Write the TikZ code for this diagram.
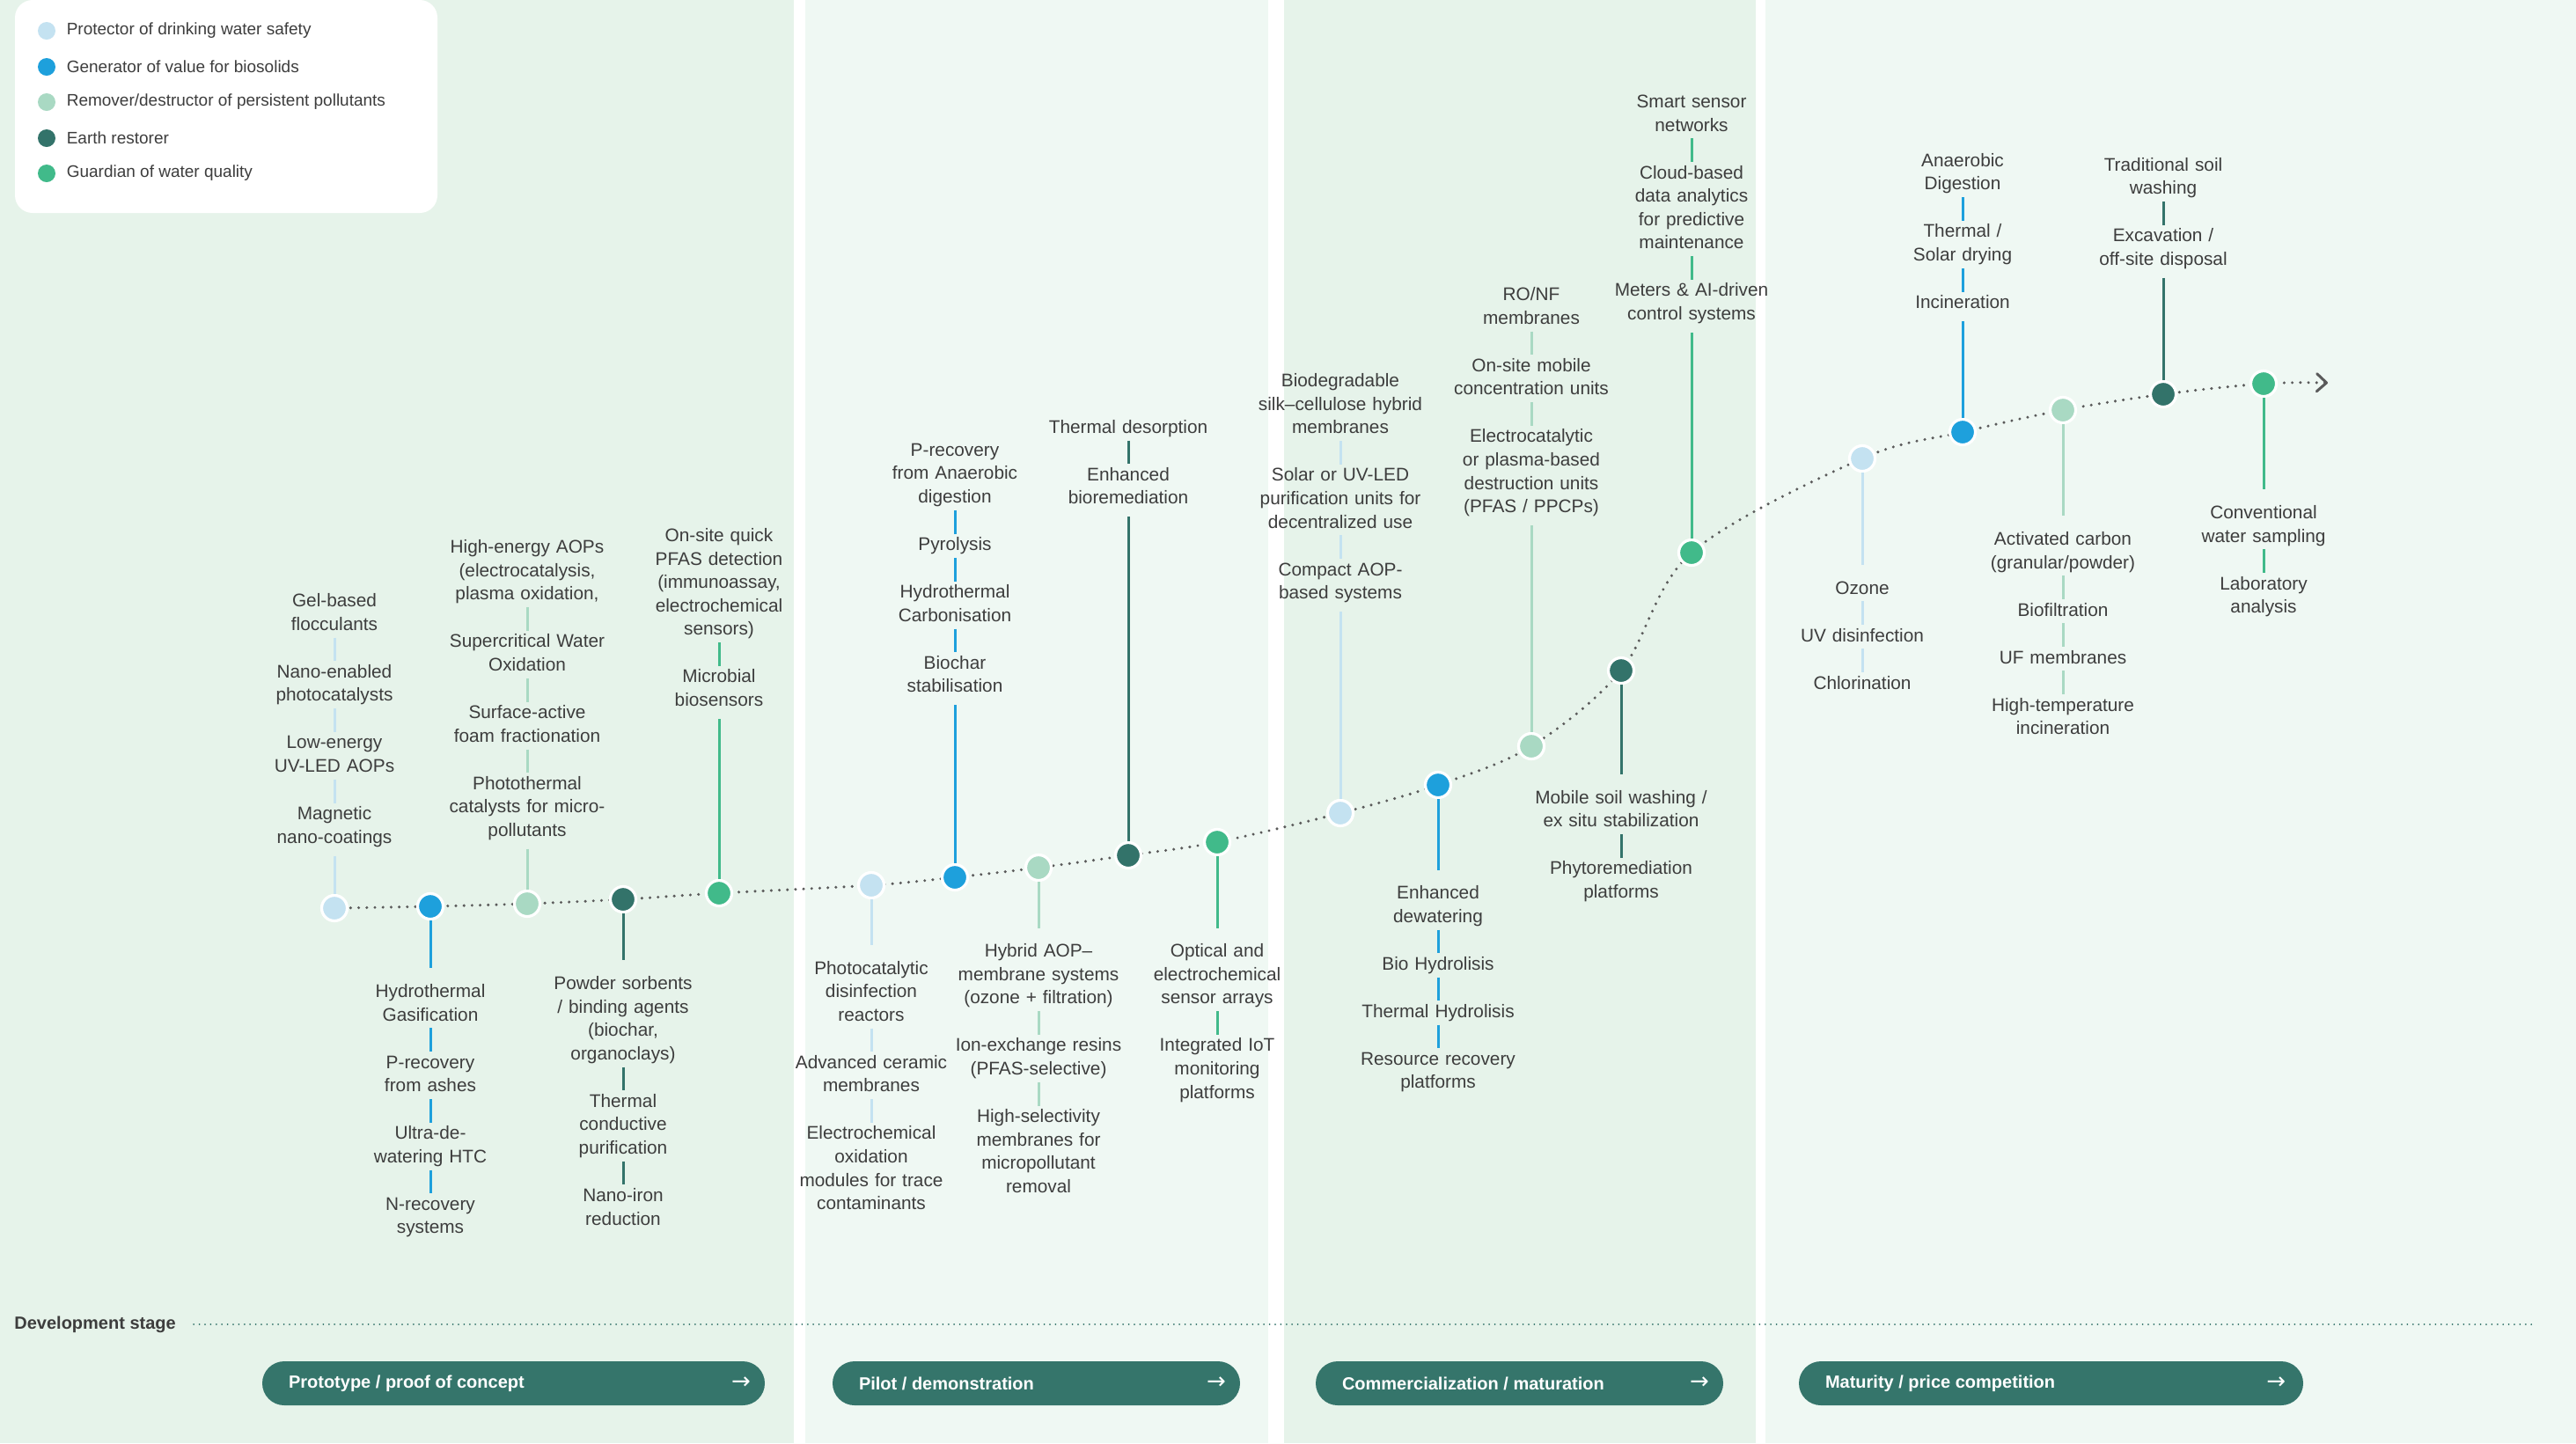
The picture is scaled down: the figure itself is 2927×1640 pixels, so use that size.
\documentclass[tikz,border=0pt]{standalone}
\usepackage{fontspec}
\setmainfont{Liberation Sans}
\newfontfamily\arrowfont{DejaVu Sans}
\usetikzlibrary{positioning,backgrounds,arrows.meta}
\setlength{\parindent}{0pt}

\definecolor{cprot}{HTML}{C4E2F1}
\definecolor{cgen}{HTML}{1EA0DC}
\definecolor{crem}{HTML}{A9D9C3}
\definecolor{cearth}{HTML}{33736A}
\definecolor{cguard}{HTML}{41BA8A}
\definecolor{cpill}{HTML}{35756B}
\definecolor{bgdark}{HTML}{E6F3EA}
\definecolor{bglight}{HTML}{EFF8F3}
\definecolor{txtgray}{HTML}{3D3D3D}
\definecolor{tlgray}{HTML}{5A5A5A}

\newcommand{\lblstrut}{\rule[-4pt]{0pt}{13.3pt}}

\begin{document}
\begin{tikzpicture}[x=0.5pt, y=-0.5pt, node distance=13.3pt,
    lbl/.style={align=center, text width=150pt, inner sep=0pt, text=txtgray,
      font=\fontsize{10.4pt}{13.3pt}\selectfont,
      execute at begin node=\lblstrut, execute at end node=\lblstrut},
    tdot/.style={circle, fill=#1, draw=white, line width=1.6pt,
      minimum size=14.5pt, inner sep=0pt},
    stem/.style={draw=#1, line width=1.5pt},
    ldot/.style={circle, fill=#1, minimum size=10pt, inner sep=0pt},
    legtxt/.style={inner sep=0pt, text=txtgray, font=\fontsize{9.5pt}{11pt}\selectfont},
    timeline/.style={draw=tlgray, line width=1.7pt, line cap=round,
      dash pattern=on 0pt off 4.6pt},
    devline/.style={draw=cearth, line width=1pt, line cap=round,
      dash pattern=on 0pt off 3.2pt},
    pill/.style={fill=cpill, rounded corners=12.5pt, minimum height=25pt, inner sep=0pt},
    pilltxt/.style={inner sep=0pt, text=white, font=\bfseries\fontsize{10pt}{12pt}\selectfont},
    pillarr/.style={inner sep=0pt, text=white, font=\arrowfont\fontsize{13pt}{14pt}\selectfont}]
    \useasboundingbox (0,0) rectangle (2927,1640);

    % legend
    \node [ldot=cprot] (l1) at (53,35) {};
    \node [legtxt, right=6pt of l1] (l1t) {Protector of drinking water safety};
    \node [ldot=cgen] (l2) at (53,76) {};
    \node [legtxt, right=6pt of l2] (l2t) {Generator of value for biosolids};
    \node [ldot=crem] (l3) at (53,116) {};
    \node [legtxt, right=6pt of l3] (l3t) {Remover/destructor of persistent pollutants};
    \node [ldot=cearth] (l4) at (53,157) {};
    \node [legtxt, right=6pt of l4] (l4t) {Earth restorer};
    \node [ldot=cguard] (l5) at (53,197) {};
    \node [legtxt, right=6pt of l5] (l5t) {Guardian of water quality};

    % technologies on the curve
    \node [tdot=cprot] (d1) at (380,1032) {};
    \node [tdot=cgen] (d2) at (489,1030) {};
    \node [tdot=crem] (d3) at (599,1027) {};
    \node [tdot=cearth] (d4) at (708,1022) {};
    \node [tdot=cguard] (d5) at (817,1015) {};
    \node [tdot=cprot] (d6) at (990,1006) {};
    \node [tdot=cgen] (d7) at (1085,997) {};
    \node [tdot=crem] (d8) at (1180,986) {};
    \node [tdot=cearth] (d9) at (1282,972) {};
    \node [tdot=cguard] (d10) at (1383,957) {};
    \node [tdot=cprot] (d11) at (1523,924) {};
    \node [tdot=cgen] (d12) at (1634,892) {};
    \node [tdot=crem] (d13) at (1740,848) {};
    \node [tdot=cearth] (d14) at (1842,762) {};
    \node [tdot=cguard] (d15) at (1922,628) {};
    \node [tdot=cprot] (d16) at (2116,521) {};
    \node [tdot=cgen] (d17) at (2230,491) {};
    \node [tdot=crem] (d18) at (2344,466) {};
    \node [tdot=cearth] (d19) at (2458,448) {};
    \node [tdot=cguard] (d20) at (2572,436) {};
    \coordinate (tlend) at (2645,435);

    % prototype
    \node [lbl, anchor=north] (d1a) at (380,670.7) {Gel-based\\flocculants};
    \node [lbl] (d1b) [below=of d1a] {Nano-enabled\\photocatalysts};
    \node [lbl] (d1c) [below=of d1b] {Low-energy\\UV-LED AOPs};
    \node [lbl] (d1d) [below=of d1c] {Magnetic\\nano-coatings};
    \path (d1a) edge [stem=cprot] (d1b)
          (d1b) edge [stem=cprot] (d1c)
          (d1c) edge [stem=cprot] (d1d)
          (d1d) edge [stem=cprot, shorten <=3pt] (d1);

    \node [lbl, anchor=north] (d2a) at (489,1114.4) {Hydrothermal\\Gasification};
    \node [lbl] (d2b) [below=of d2a] {P-recovery\\from ashes};
    \node [lbl] (d2c) [below=of d2b] {Ultra-de-\\watering HTC};
    \node [lbl] (d2d) [below=of d2c] {N-recovery\\systems};
    \path (d2) edge [stem=cgen, shorten >=7pt] (d2a)
          (d2a) edge [stem=cgen] (d2b)
          (d2b) edge [stem=cgen] (d2c)
          (d2c) edge [stem=cgen] (d2d);

    \node [lbl, anchor=north] (d3a) at (599,609.7) {High-energy AOPs\\(electrocatalysis,\\plasma oxidation,};
    \node [lbl] (d3b) [below=of d3a] {Supercritical Water\\Oxidation};
    \node [lbl] (d3c) [below=of d3b] {Surface-active\\foam fractionation};
    \node [lbl] (d3d) [below=of d3c] {Photothermal\\catalysts for micro-\\pollutants};
    \path (d3a) edge [stem=crem] (d3b)
          (d3b) edge [stem=crem] (d3c)
          (d3c) edge [stem=crem] (d3d)
          (d3d) edge [stem=crem, shorten <=3pt] (d3);

    \node [lbl, anchor=north] (d4a) at (708,1105.4) {Powder sorbents\\/ binding agents\\(biochar,\\organoclays)};
    \node [lbl] (d4b) [below=of d4a] {Thermal\\conductive\\purification};
    \node [lbl] (d4c) [below=of d4b] {Nano-iron\\reduction};
    \path (d4) edge [stem=cearth, shorten >=7pt] (d4a)
          (d4a) edge [stem=cearth] (d4b)
          (d4b) edge [stem=cearth] (d4c);

    \node [lbl, anchor=north] (d5a) at (817,596.4) {On-site quick\\PFAS detection\\(immunoassay,\\electrochemical\\sensors)};
    \node [lbl] (d5b) [below=of d5a] {Microbial\\biosensors};
    \path (d5a) edge [stem=cguard] (d5b)
          (d5b) edge [stem=cguard, shorten <=3pt] (d5);

    % pilot
    \node [lbl, anchor=north] (d6a) at (990,1088) {Photocatalytic\\disinfection\\reactors};
    \node [lbl] (d6b) [below=of d6a] {Advanced ceramic\\membranes};
    \node [lbl] (d6c) [below=of d6b] {Electrochemical\\oxidation\\modules for trace\\contaminants};
    \path (d6) edge [stem=cprot, shorten >=7pt] (d6a)
          (d6a) edge [stem=cprot] (d6b)
          (d6b) edge [stem=cprot] (d6c);

    \node [lbl, anchor=north] (d7a) at (1085,499.3) {P-recovery\\from Anaerobic\\digestion};
    \node [lbl] (d7b) [below=of d7a] {Pyrolysis};
    \node [lbl] (d7c) [below=of d7b] {Hydrothermal\\Carbonisation};
    \node [lbl] (d7d) [below=of d7c] {Biochar\\stabilisation};
    \path (d7a) edge [stem=cgen] (d7b)
          (d7b) edge [stem=cgen] (d7c)
          (d7c) edge [stem=cgen] (d7d)
          (d7d) edge [stem=cgen, shorten <=3pt] (d7);

    \node [lbl, anchor=north] (d8a) at (1180,1068.7) {Hybrid AOP–\\membrane systems\\(ozone + filtration)};
    \node [lbl] (d8b) [below=of d8a] {Ion-exchange resins\\(PFAS-selective)};
    \node [lbl] (d8c) [below=of d8b] {High-selectivity\\membranes for\\micropollutant\\removal};
    \path (d8) edge [stem=crem, shorten >=7pt] (d8a)
          (d8a) edge [stem=crem] (d8b)
          (d8b) edge [stem=crem] (d8c);

    \node [lbl, anchor=north] (d9a) at (1282,473.2) {Thermal desorption};
    \node [lbl] (d9b) [below=of d9a] {Enhanced\\bioremediation};
    \path (d9a) edge [stem=cearth] (d9b)
          (d9b) edge [stem=cearth, shorten <=3pt] (d9);

    \node [lbl, anchor=north] (d10a) at (1383,1068.7) {Optical and\\electrochemical\\sensor arrays};
    \node [lbl] (d10b) [below=of d10a] {Integrated IoT\\monitoring\\platforms};
    \path (d10) edge [stem=cguard, shorten >=7pt] (d10a)
          (d10a) edge [stem=cguard] (d10b);

    % commercialization
    \node [lbl, anchor=north] (d11a) at (1523,420.6) {Biodegradable\\silk–cellulose hybrid\\membranes};
    \node [lbl] (d11b) [below=of d11a] {Solar or UV-LED\\purification units for\\decentralized use};
    \node [lbl] (d11c) [below=of d11b] {Compact AOP-\\based systems};
    \path (d11a) edge [stem=cprot] (d11b)
          (d11b) edge [stem=cprot] (d11c)
          (d11c) edge [stem=cprot, shorten <=3pt] (d11);

    \node [lbl, anchor=north] (d12a) at (1634,1002.7) {Enhanced\\dewatering};
    \node [lbl] (d12b) [below=of d12a] {Bio Hydrolisis};
    \node [lbl] (d12c) [below=of d12b] {Thermal Hydrolisis};
    \node [lbl] (d12d) [below=of d12c] {Resource recovery\\platforms};
    \path (d12) edge [stem=cgen, shorten >=7pt] (d12a)
          (d12a) edge [stem=cgen] (d12b)
          (d12b) edge [stem=cgen] (d12c)
          (d12c) edge [stem=cgen] (d12d);

    \node [lbl, anchor=north] (d13a) at (1740,322.6) {RO/NF\\membranes};
    \node [lbl] (d13b) [below=of d13a] {On-site mobile\\concentration units};
    \node [lbl] (d13c) [below=of d13b] {Electrocatalytic\\or plasma-based\\destruction units\\(PFAS / PPCPs)};
    \path (d13a) edge [stem=crem] (d13b)
          (d13b) edge [stem=crem] (d13c)
          (d13c) edge [stem=crem, shorten <=3pt] (d13);

    \node [lbl, anchor=north] (d14a) at (1842,894.2) {Mobile soil washing /\\ex situ stabilization};
    \node [lbl] (d14b) [below=of d14a] {Phytoremediation\\platforms};
    \path (d14) edge [stem=cearth, shorten >=7pt] (d14a)
          (d14a) edge [stem=cearth] (d14b);

    \node [lbl, anchor=north] (d15a) at (1922,103.4) {Smart sensor\\networks};
    \node [lbl] (d15b) [below=of d15a] {Cloud-based\\data analytics\\for predictive\\maintenance};
    \node [lbl] (d15c) [below=of d15b] {Meters \& AI-driven\\control systems};
    \path (d15a) edge [stem=cguard] (d15b)
          (d15b) edge [stem=cguard] (d15c)
          (d15c) edge [stem=cguard, shorten <=3pt] (d15);

    % maturity
    \node [lbl, anchor=north] (d16a) at (2116,656) {Ozone};
    \node [lbl] (d16b) [below=of d16a] {UV disinfection};
    \node [lbl] (d16c) [below=of d16b] {Chlorination};
    \path (d16) edge [stem=cprot, shorten >=7pt] (d16a)
          (d16a) edge [stem=cprot] (d16b)
          (d16b) edge [stem=cprot] (d16c);

    \node [lbl, anchor=north] (d17a) at (2230,170.3) {Anaerobic\\Digestion};
    \node [lbl] (d17b) [below=of d17a] {Thermal /\\Solar drying};
    \node [lbl] (d17c) [below=of d17b] {Incineration};
    \path (d17a) edge [stem=cgen] (d17b)
          (d17b) edge [stem=cgen] (d17c)
          (d17c) edge [stem=cgen, shorten <=3pt] (d17);

    \node [lbl, anchor=north] (d18a) at (2344,600.4) {Activated carbon\\(granular/powder)};
    \node [lbl] (d18b) [below=of d18a] {Biofiltration};
    \node [lbl] (d18c) [below=of d18b] {UF membranes};
    \node [lbl] (d18d) [below=of d18c] {High-temperature\\incineration};
    \path (d18) edge [stem=crem, shorten >=7pt] (d18a)
          (d18a) edge [stem=crem] (d18b)
          (d18b) edge [stem=crem] (d18c)
          (d18c) edge [stem=crem] (d18d);

    \node [lbl, anchor=north] (d19a) at (2458,175) {Traditional soil\\washing};
    \node [lbl] (d19b) [below=of d19a] {Excavation /\\off-site disposal};
    \path (d19a) edge [stem=cearth] (d19b)
          (d19b) edge [stem=cearth, shorten <=3pt] (d19);

    \node [lbl, anchor=north] (d20a) at (2572,570.4) {Conventional\\water sampling};
    \node [lbl] (d20b) [below=of d20a] {Laboratory\\analysis};
    \path (d20) edge [stem=cguard, shorten >=7pt] (d20a)
          (d20a) edge [stem=cguard] (d20b);

    % development stage
    \node [inner sep=0pt, anchor=west, text=txtgray, font=\bfseries\fontsize{10pt}{12pt}\selectfont] (dev) at (16,1505) {Development stage};
    \coordinate (devend) at (2882,1505);
    \draw [devline, shorten <=10pt] (dev.east) -- (devend);

    \node [pill, minimum width=285.5pt] (st1) at (583.5,1572) {};
    \node [pilltxt, right=15pt of st1.west] (st1t) {Prototype / proof of concept};
    \node [pillarr, left=8pt of st1.east] (st1a) {→};
    \node [pill, minimum width=231.5pt] (st2) at (1177.5,1572) {};
    \node [pilltxt, right=15pt of st2.west] (st2t) {Pilot / demonstration};
    \node [pillarr, left=8pt of st2.east] (st2a) {→};
    \node [pill, minimum width=231.5pt] (st3) at (1726.5,1572) {};
    \node [pilltxt, right=15pt of st3.west] (st3t) {Commercialization / maturation};
    \node [pillarr, left=8pt of st3.east] (st3a) {→};
    \node [pill, minimum width=286.5pt] (st4) at (2330.5,1572) {};
    \node [pilltxt, right=15pt of st4.west] (st4t) {Maturity / price competition};
    \node [pillarr, left=10pt of st4.east] (st4a) {→};

    \begin{scope}[on background layer]
      \fill [white] (0,0) rectangle (2927,1640);
      \fill [bgdark] (0,0) rectangle (902,1640);
      \fill [bglight] (915,0) rectangle (1441,1640);
      \fill [bgdark] (1459,0) rectangle (1995,1640);
      \fill [bglight] (2006,0) rectangle (2927,1640);
      \fill [white, rounded corners=10pt] (17,0) rectangle (497,242);
      \draw [timeline, -{Straight Barb[length=5.5pt, width=10pt, line width=1.5pt, round]}]
        plot [smooth, tension=0.55] coordinates {(d1.center) (d2.center) (d3.center)
        (d4.center) (d5.center) (d6.center) (d7.center) (d8.center) (d9.center)
        (d10.center) (d11.center) (d12.center) (d13.center) (d14.center)
        (d15.center) (d16.center) (d17.center) (d18.center) (d19.center)
        (d20.center) (tlend)};
    \end{scope}
\end{tikzpicture}
\end{document}
